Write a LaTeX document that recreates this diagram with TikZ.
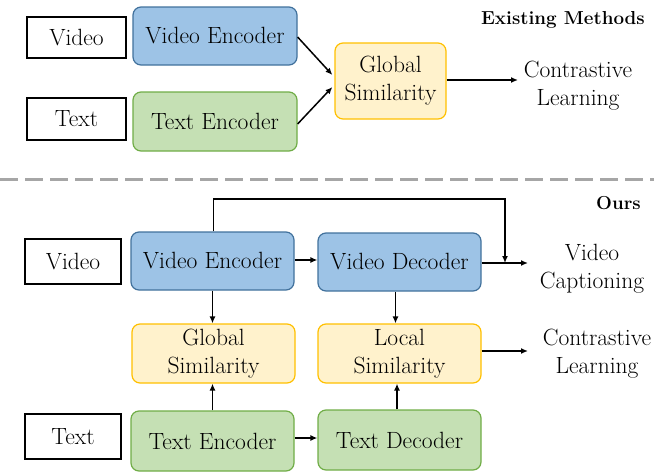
\documentclass[tikz,border=0pt]{standalone}
\usepackage{fontspec}
\usetikzlibrary{arrows.meta,calc}

\definecolor{blueF}{HTML}{9DC3E6}
\definecolor{blueD}{HTML}{41719C}
\definecolor{greenF}{HTML}{C5E0B4}
\definecolor{greenD}{HTML}{70AD47}
\definecolor{yellowF}{HTML}{FFF2CC}
\definecolor{yellowD}{HTML}{FFC000}
\definecolor{sepgray}{HTML}{A6A6A6}

\tikzset{
  x=1pt, y=1pt,
  every node/.style={font=\rmfamily\fontsize{23.5}{28}\selectfont, align=center, inner sep=0pt},
  inbox/.style={draw=black, line width=1.4pt, fill=white},
  blk/.style={rounded corners=8pt, line width=1.2pt, minimum width=163pt},
  enc/.style={blk, draw=blueD, fill=blueF},
  txt/.style={blk, draw=greenD, fill=greenF},
  sim/.style={blk, draw=yellowD, fill=yellowF},
  arr/.style={draw=black, line width=1.5pt, -{Latex[length=7pt,width=6pt]}},
  ttl/.style={font=\rmfamily\fontsize{18.8}{23}\selectfont\bfseries},
}

\begin{document}
\begin{tikzpicture}
\useasboundingbox (0,0) rectangle (654,-472);

% ---- existing methods ----
\node[inbox, minimum width=99pt, minimum height=41pt] (v1) at (76.5,-37.5) {Video};
\node[inbox, minimum width=99pt, minimum height=42pt] (t1) at (76.5,-119) {Text};
\node[enc, minimum width=164pt, minimum height=58pt] (venc1) at (215,-36) {Video Encoder};
\node[txt, minimum width=164pt, minimum height=59pt] (tenc1) at (215,-121.5) {Text Encoder};
\node[sim, minimum width=111pt, minimum height=76pt] (gs1) at (390.5,-81) {Global\\Similarity};
\node (cl1) at (578,-86) {Contrastive\\Learning};
\node[ttl, anchor=east] (em) at (645,-20) {Existing Methods};

\coordinate (clin1) at (518,-80);
\draw[arr] ([yshift=-1pt]venc1.east) -- ([xshift=-2pt,yshift=6pt]gs1.west);
\draw[arr] ([yshift=-2.5pt]tenc1.east) -- ([xshift=-2pt,yshift=-6pt]gs1.west);
\draw[arr] (gs1.east |- clin1) -- (clin1);

% ---- separator ----
\draw[sepgray, line width=3pt, dash pattern=on 18pt off 7pt] (0,-179) -- (654,-179);

% ---- ours ----
\node[ttl, anchor=east] (ours) at (641,-203) {Ours};
\node[inbox, minimum width=96pt, minimum height=45pt] (v2) at (73,-261.5) {Video};
\node[inbox, minimum width=96pt, minimum height=45pt] (t2) at (73,-436.5) {Text};
\node[enc, minimum height=58pt] (venc2) at (212.5,-261) {Video Encoder};
\node[enc, minimum height=58pt] (vdec2) at (399.5,-262) {Video Decoder};
\node[sim, minimum height=59pt] (gs2) at (213.5,-353.5) {Global\\Similarity};
\node[sim, minimum height=59pt] (ls2) at (399.5,-353.5) {Local\\Similarity};
\node[txt, minimum height=60pt] (tenc2) at (212.5,-441) {Text Encoder};
\node[txt, minimum height=60pt] (tdec2) at (399.5,-440) {Text Decoder};
\node (vc2) at (592,-269) {Video\\Captioning};
\node (cl2) at (597,-354) {Contrastive\\Learning};

\coordinate (capin) at (528,-263);
\coordinate (clin) at (528,-351);
\coordinate (loopa) at (213.5,-199);
\coordinate (loopb) at (505,-199);

\draw[arr] ([yshift=1pt]venc2.east) -- ([yshift=2pt]vdec2.west);
\draw[arr] ([yshift=-1pt]vdec2.east) -- (capin);
\draw[arr] (venc2.north -| loopa) -- (loopa) -- (loopb) -- (loopb |- capin);
\draw[arr] (venc2.south) -- (venc2.south |- gs2.north);
\draw[arr] ([xshift=-4pt]vdec2.south) -- ([xshift=-4pt]vdec2.south |- ls2.north);
\draw[arr] (tenc2.north) -- (tenc2.north |- gs2.south);
\draw[arr] ([xshift=-2.5pt]tdec2.north) -- ([xshift=-2.5pt]tdec2.north |- ls2.south);
\draw[arr] ([yshift=2.5pt]ls2.east) -- (clin);
\draw[arr] ([yshift=3pt]tenc2.east) -- ([yshift=2pt]tdec2.west);
\end{tikzpicture}
\end{document}
